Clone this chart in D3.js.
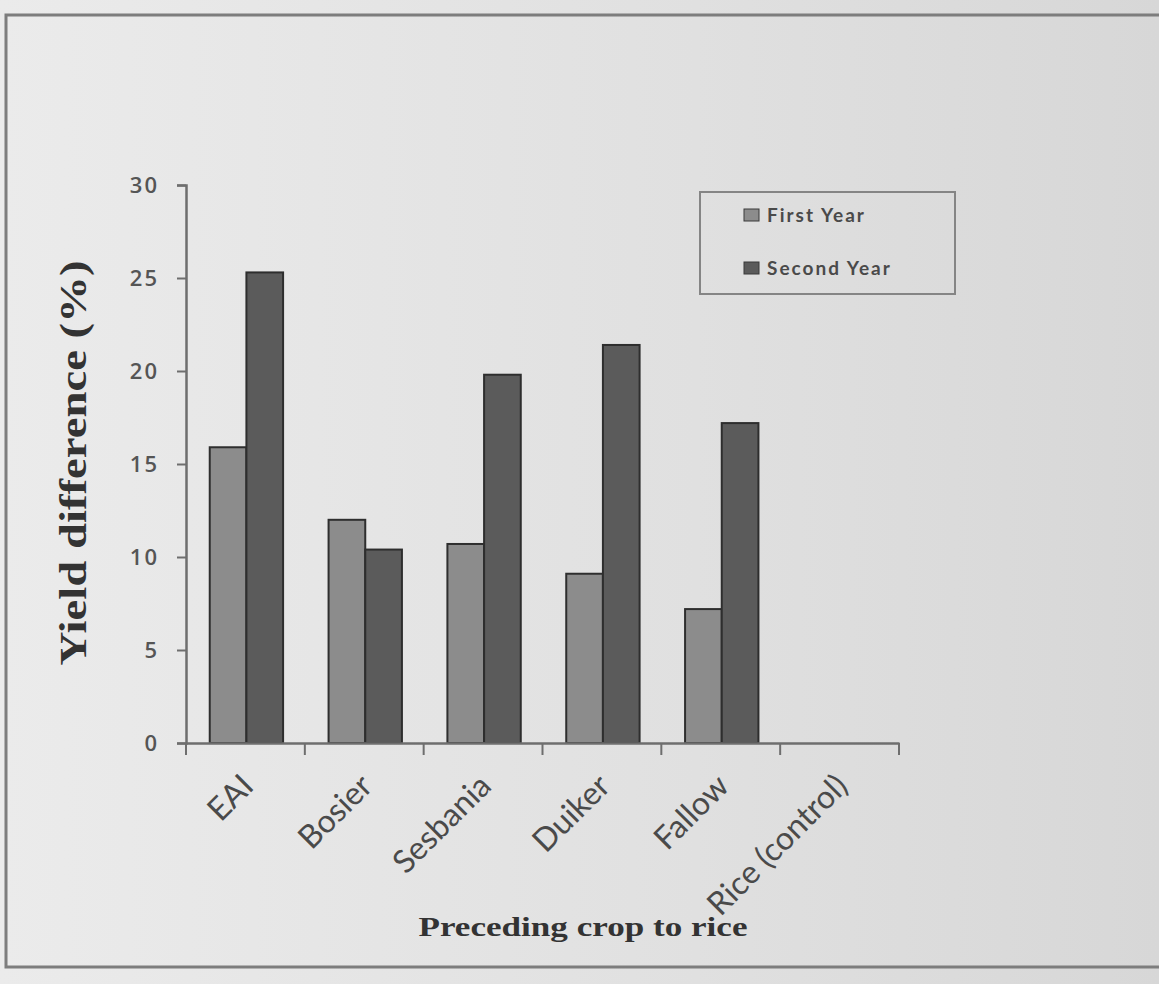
<!DOCTYPE html>
<html>
<head>
<meta charset="utf-8">
<script src="https://cdn.jsdelivr.net/npm/d3@7"></script>
<style>
    body { margin: 0; background: #e2e2e2; }
    svg { display: block; }
    .tick-label { font-family: "Open Sans", "Liberation Sans", sans-serif; font-size: 22px; font-weight: 600; fill: #555; letter-spacing: 2px; }
    .cat-label { font-family: Lato, "Open Sans", sans-serif; font-size: 32px; fill: #4a4a4a; }
    .axis-title { font-family: "Liberation Serif", serif; font-weight: bold; fill: #333; }
    .legend-text { font-family: Lato, "Open Sans", sans-serif; font-size: 19px; font-weight: bold; fill: #4a4a4a; letter-spacing: 2px; }
</style>
</head>
<body>
<div id="chart"></div>
<script>
var categories = ['EAI', 'Bosier', 'Sesbania', 'Duiker', 'Fallow', 'Rice (control)'];
var firstYear = [15.9, 12.0, 10.7, 9.1, 7.2, 0];
var secondYear = [25.3, 10.4, 19.8, 21.4, 17.2, 0];
var seriesNames = ['First Year', 'Second Year'];
var yTicks = [0, 5, 10, 15, 20, 25, 30];

var width = 1159;
var height = 984;
var colors = { 'First Year': '#8c8c8c', 'Second Year': '#5b5b5b' };

var svg = d3.select('#chart')
    .append('svg')
    .attr('width', width)
    .attr('height', height);

// scanned page background
var grad = svg.append('defs').append('linearGradient')
    .attr('id', 'paper')
    .attr('x1', 0).attr('x2', 1).attr('y1', 0).attr('y2', 0);
grad.append('stop').attr('offset', '0%').attr('stop-color', '#ebebeb');
grad.append('stop').attr('offset', '60%').attr('stop-color', '#e0e0e0');
grad.append('stop').attr('offset', '100%').attr('stop-color', '#d7d7d7');

svg.append('rect')
    .attr('width', width)
    .attr('height', height)
    .attr('fill', 'url(#paper)');

// page frame
svg.append('rect')
    .attr('x', 6)
    .attr('y', 15)
    .attr('width', 1160)
    .attr('height', 952)
    .attr('fill', 'none')
    .attr('stroke', '#7d7d7d')
    .attr('stroke-width', 3);

var plot = { left: 186, right: 899, top: 185, bottom: 743 };

var x = d3.scaleBand()
    .domain(categories)
    .range([plot.left, plot.right])
    .paddingInner(0)
    .paddingOuter(0);

var xInner = d3.scaleBand()
    .domain(seriesNames)
    .range([0, x.bandwidth()])
    .paddingInner(0)
    .paddingOuter(0.62);

var y = d3.scaleLinear()
    .domain([0, 30])
    .range([plot.bottom, plot.top]);

var rows = categories.map(function(c, i) {
    return { cat: c, values: [
        { name: 'First Year', value: firstYear[i] },
        { name: 'Second Year', value: secondYear[i] }
    ] };
});

// bars
var groups = svg.append('g')
    .selectAll('g')
    .data(rows)
    .join('g')
    .attr('transform', function(d) { return 'translate(' + (x(d.cat) + 1) + ',0)'; });

groups.selectAll('rect')
    .data(function(d) { return d.values.filter(function(v) { return v.value > 0; }); })
    .join('rect')
    .attr('x', function(d) { return xInner(d.name); })
    .attr('y', function(d) { return y(d.value); })
    .attr('width', xInner.bandwidth())
    .attr('height', function(d) { return y(0) - y(d.value); })
    .attr('fill', function(d) { return colors[d.name]; })
    .attr('stroke', '#2e2e2e')
    .attr('stroke-width', 2);

// y axis
var yAxis = svg.append('g')
    .attr('transform', 'translate(' + plot.left + ',0)')
    .call(d3.axisLeft(y).tickValues(yTicks).tickSize(9).tickPadding(18));

yAxis.select('.domain').attr('stroke', '#6e6e6e').attr('stroke-width', 2.5);
yAxis.selectAll('.tick line').attr('stroke', '#6e6e6e').attr('stroke-width', 2);
yAxis.selectAll('.tick text').attr('class', 'tick-label').attr('dy', '0.35em');

// x axis
var xAxis = svg.append('g')
    .attr('transform', 'translate(0,' + plot.bottom + ')')
    .call(d3.axisBottom(x).tickSize(0).tickFormat(''));

xAxis.select('.domain').attr('stroke', '#6e6e6e').attr('stroke-width', 2.5);
xAxis.selectAll('.tick').remove();

var boundaries = [plot.left].concat(categories.map(function(c) { return x(c) + x.bandwidth(); }));
xAxis.selectAll('line.bound')
    .data(boundaries)
    .join('line')
    .attr('class', 'bound')
    .attr('x1', function(d) { return d; })
    .attr('x2', function(d) { return d; })
    .attr('y1', 0)
    .attr('y2', 12)
    .attr('stroke', '#6e6e6e')
    .attr('stroke-width', 2);

// rotated category labels
svg.append('g')
    .selectAll('text')
    .data(categories)
    .join('text')
    .attr('class', 'cat-label')
    .attr('text-anchor', 'end')
    .attr('transform', function(d) {
        return 'translate(' + (x(d) + x.bandwidth() / 2 + 10) + ',' + (plot.bottom + 45) + ') rotate(-45)';
    })
    .text(function(d) { return d; });

// axis titles
svg.append('text')
    .attr('class', 'axis-title')
    .attr('text-anchor', 'middle')
    .attr('transform', 'translate(86,463) rotate(-90)')
    .attr('font-size', 37)
    .attr('textLength', 405)
    .attr('lengthAdjust', 'spacingAndGlyphs')
    .text('Yield difference (%)');

svg.append('text')
    .attr('class', 'axis-title')
    .attr('text-anchor', 'middle')
    .attr('x', 583)
    .attr('y', 936)
    .attr('font-size', 28)
    .attr('textLength', 329)
    .attr('lengthAdjust', 'spacingAndGlyphs')
    .text('Preceding crop to rice');

// legend
var legend = svg.append('g')
    .attr('transform', 'translate(700,192)');

legend.append('rect')
    .attr('width', 255)
    .attr('height', 102)
    .attr('fill', 'none')
    .attr('stroke', '#858585')
    .attr('stroke-width', 2);

var items = legend.selectAll('g.item')
    .data(seriesNames)
    .join('g')
    .attr('class', 'item')
    .attr('transform', function(d, i) { return 'translate(44,' + (23 + i * 53) + ')'; });

items.append('rect')
    .attr('width', 15)
    .attr('height', 12)
    .attr('y', -6)
    .attr('fill', function(d) { return colors[d]; })
    .attr('stroke', '#3a3a3a')
    .attr('stroke-width', 1);

items.append('text')
    .attr('class', 'legend-text')
    .attr('x', 23)
    .attr('dy', '0.36em')
    .text(function(d) { return d; });
</script>
</body>
</html>
